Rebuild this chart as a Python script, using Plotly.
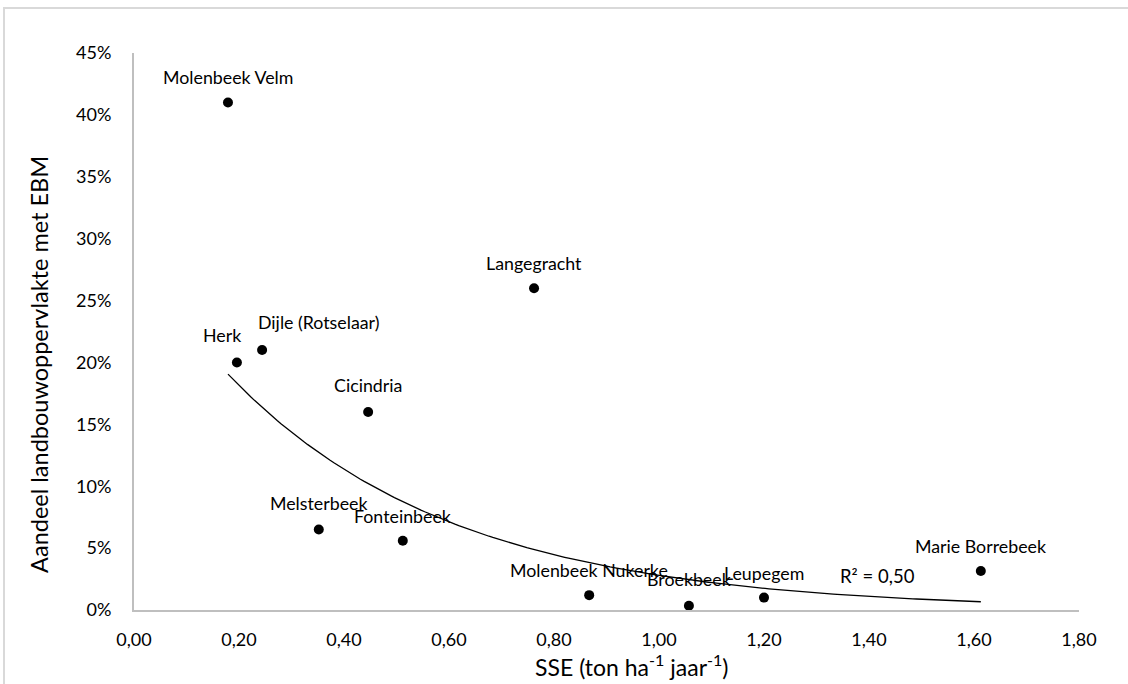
import numpy as np
import plotly.graph_objects as go

# Data
names = ["Molenbeek Velm", "Herk", "Dijle (Rotselaar)", "Cicindria", "Langegracht",
         "Melsterbeek", "Fonteinbeek", "Molenbeek Nukerke", "Broekbeek", "Leupegem",
         "Marie Borrebeek"]
sse = [0.179, 0.196, 0.244, 0.446, 0.762, 0.352, 0.512, 0.867, 1.057, 1.200, 1.613]
share_pct = [41.0, 20.0, 21.0, 16.0, 26.0, 6.5, 5.6, 1.2, 0.35, 1.0, 3.15]

x_ticks = [0.0, 0.2, 0.4, 0.6, 0.8, 1.0, 1.2, 1.4, 1.6, 1.8]
y_ticks = [0, 5, 10, 15, 20, 25, 30, 35, 40, 45]
y_tick_labels = [f"{v}%" for v in y_ticks]

# label offsets (style)
label_xshift = [0, -15, 56, 0, 0, 0, 0, 0, 0, 0, 0]
label_yshift = [26, 27, 28, 27, 25, 27, 25, 25, 27, 25, 25]

FONT = "Lato"

# exponential trendline (Excel style: linear fit on ln y)
xa = np.array(sse)
ya = np.array(share_pct)
b, ln_a = np.polyfit(xa, np.log(ya), 1)
pred = ln_a + b * xa
ss_res = np.sum((np.log(ya) - pred) ** 2)
ss_tot = np.sum((np.log(ya) - np.log(ya).mean()) ** 2)
r2 = 1 - ss_res / ss_tot
xt = np.linspace(xa.min(), xa.max(), 200)
yt = np.exp(ln_a + b * xt)

fig = go.Figure()
fig.add_trace(go.Scatter(x=xt, y=yt, mode="lines",
                         line=dict(color="black", width=1.3),
                         hoverinfo="skip", showlegend=False))
fig.add_trace(go.Scatter(x=sse, y=share_pct, mode="markers",
                         marker=dict(color="black", size=10),
                         text=names, showlegend=False))

for n, xv, yv, dx, dy in zip(names, sse, share_pct, label_xshift, label_yshift):
    fig.add_annotation(x=xv, y=yv, text=n, showarrow=False,
                       xshift=dx, yshift=dy, xanchor="center", yanchor="middle",
                       font=dict(family=FONT, size=17.8, color="black"))

r2_txt = "R² = " + f"{r2:.2f}".replace(".", ",")
fig.add_annotation(x=1.417, y=2.75, text=r2_txt, showarrow=False,
                   xanchor="center", yanchor="middle",
                   font=dict(family=FONT, size=18.5, color="black"))

# axis titles
fig.add_annotation(xref="paper", yref="paper", x=-0.1005, y=0.44,
                   xanchor="center", yanchor="middle",
                   text="Aandeel landbouwoppervlakte met EBM", textangle=-90,
                   showarrow=False, font=dict(family=FONT, size=23.5, color="black"))
fig.add_annotation(xref="paper", yref="paper", x=0.5275, y=-0.100,
                   xanchor="center", yanchor="middle",
                   text="SSE (ton ha<sup>-1</sup> jaar<sup>-1</sup>)",
                   showarrow=False, font=dict(family=FONT, size=23, color="black"))

# outer chart border
fig.add_shape(type="rect", xref="paper", yref="paper",
              x0=(4 - 134) / 945, x1=1.2, y0=-0.3, y1=(610 - 8) / 557,
              line=dict(color="#d9d9d9", width=2), fillcolor="rgba(0,0,0,0)",
              layer="below")

fig.update_layout(
    width=1128, height=684,
    margin=dict(l=134, r=49, t=53, b=74),
    paper_bgcolor="white", plot_bgcolor="white",
    separators=",.",
    font=dict(family=FONT, size=18, color="black"),
    xaxis=dict(range=[0, 1.8], tickvals=x_ticks, tickformat=".2f",
               showgrid=False, zeroline=False, showline=True,
               linecolor="#bfbfbf", linewidth=2,
               ticks="outside", ticklen=12, tickcolor="rgba(0,0,0,0)",
               tickfont=dict(family=FONT, size=18, color="black")),
    yaxis=dict(range=[0, 45], tickvals=y_ticks, ticktext=y_tick_labels,
               showgrid=False, zeroline=False, showline=True,
               linecolor="#bfbfbf", linewidth=2,
               ticks="outside", ticklen=17, tickcolor="rgba(0,0,0,0)",
               tickfont=dict(family=FONT, size=18, color="black")),
)

fig.write_html("out.html")
